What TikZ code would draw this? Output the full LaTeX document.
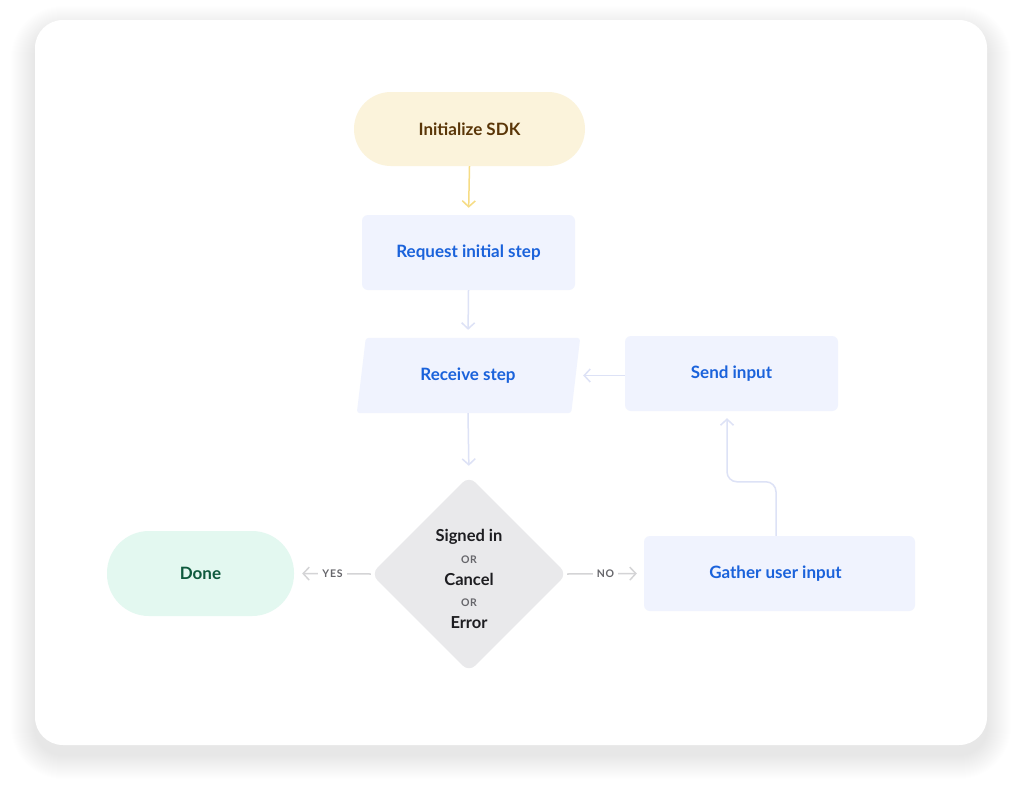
\documentclass[tikz,border=0pt]{standalone}
\usepackage{fontspec}
\setmainfont{Lato}
\usetikzlibrary{arrows.meta,shapes.geometric}
\definecolor{yellowbg}{HTML}{FBF3DB}
\definecolor{browntxt}{HTML}{5A3608}
\definecolor{yellowarr}{HTML}{F6DC85}
\definecolor{boxbg}{HTML}{F0F3FE}
\definecolor{bluetxt}{HTML}{1A62DB}
\definecolor{lavarr}{HTML}{DDE2F6}
\definecolor{decbg}{HTML}{E9E9EB}
\definecolor{darktxt}{HTML}{1D1D21}
\definecolor{ortxt}{HTML}{66666B}
\definecolor{donebg}{HTML}{E3F8F0}
\definecolor{greentxt}{HTML}{0E5A3D}
\definecolor{grayline}{HTML}{D4D4D6}
\newcommand{\smallcapsfont}{\fontsize{10.5}{12}\selectfont\bfseries\addfontfeature{LetterSpace=7}}
\tikzset{
  mainfont/.style={font=\fontsize{17}{20}\selectfont\bfseries},
  pill/.style={rectangle, mainfont, inner sep=0pt},
  stepbox/.style={rectangle, rounded corners=6pt, fill=boxbg, text=bluetxt, mainfont,
    minimum width=213pt, minimum height=75pt, inner sep=0pt},
  conn/.style={line width=1.5pt, -{Straight Barb[length=6pt,width=13pt]}},
  lavconn/.style={conn, draw=lavarr},
  grayconn/.style={conn, draw=grayline},
  lbl/.style={font=\smallcapsfont, text=ortxt, fill=white, inner sep=4pt},
}
\begin{document}
\begin{tikzpicture}[x=1pt,y=-1pt]
\useasboundingbox (0,0) rectangle (1022,795);
% card shadow
\foreach \i in {1,...,24}{
  \pgfmathsetmacro{\rr}{28+\i}
  \fill[black, opacity=0.002, rounded corners=\rr pt] (35-\i,30-\i) rectangle (987+\i,755+\i);
}
\fill[white, rounded corners=28pt] (35,20) rectangle (987,745);

% nodes
\node[pill, fill=yellowbg, text=browntxt, rounded corners=37pt, minimum width=231pt, minimum height=74pt] (init) at (469.5,129) {Initialize SDK};
\node[stepbox] (req) at (468.5,252.5) {Request initial step};
\node[rectangle, minimum width=214pt, minimum height=75pt, inner sep=0pt] (rs) at (468,375.5) {};
\fill[boxbg, rounded corners=3pt] ([xshift=5pt]rs.north west) -- ([xshift=5pt]rs.north east)
  -- ([xshift=-4pt]rs.south east) -- ([xshift=-4pt]rs.south west) -- cycle;
\node[text=bluetxt, mainfont, inner sep=0pt] (rstxt) at (rs.center) {Receive step};
\node[stepbox] (send) at (731.5,373.5) {Send input};
\node[diamond, aspect=1, fill=decbg, rounded corners=9pt, minimum width=196pt, minimum height=196pt, inner sep=0pt] (dec) at (469,574) {};
\node[align=center, text=darktxt, font=\fontsize{16.5}{21.75}\selectfont\bfseries] (dectxt) at ([yshift=-5pt]dec.center)
  {Signed in\\{\color{ortxt}\smallcapsfont OR}\\Cancel\\{\color{ortxt}\smallcapsfont OR}\\Error};
\node[pill, fill=donebg, text=greentxt, rounded corners=42pt, minimum width=187pt, minimum height=85pt] (done) at (200.5,573.5) {Done};
\node[stepbox, minimum width=271pt, minimum height=75pt] (gather) at (779.5,573.5) {Gather user input\hspace*{8pt}};

% connectors
\draw[conn, draw=yellowarr, shorten >=7pt] (init.south) -- (req.north);
\draw[lavconn, shorten >=8pt] (req.south) -- (rs.north);
\draw[lavconn, shorten >=10pt] (rs.south) -- (dec.north);
\draw[lavconn, shorten >=8pt] (send.west |- rs.east) -- (rs.east);
\draw[grayconn, shorten >=8pt] (dec.west) -- node[lbl]{YES} (done.east);
\draw[grayconn, shorten >=7pt] (dec.east) -- node[lbl]{NO} (gather.west);
\draw[lavconn, rounded corners=10pt] ([xshift=-3.5pt]gather.north) -- ++(0,-54) -| ([xshift=-4.5pt,yshift=-7pt]send.south);
\end{tikzpicture}
\end{document}
